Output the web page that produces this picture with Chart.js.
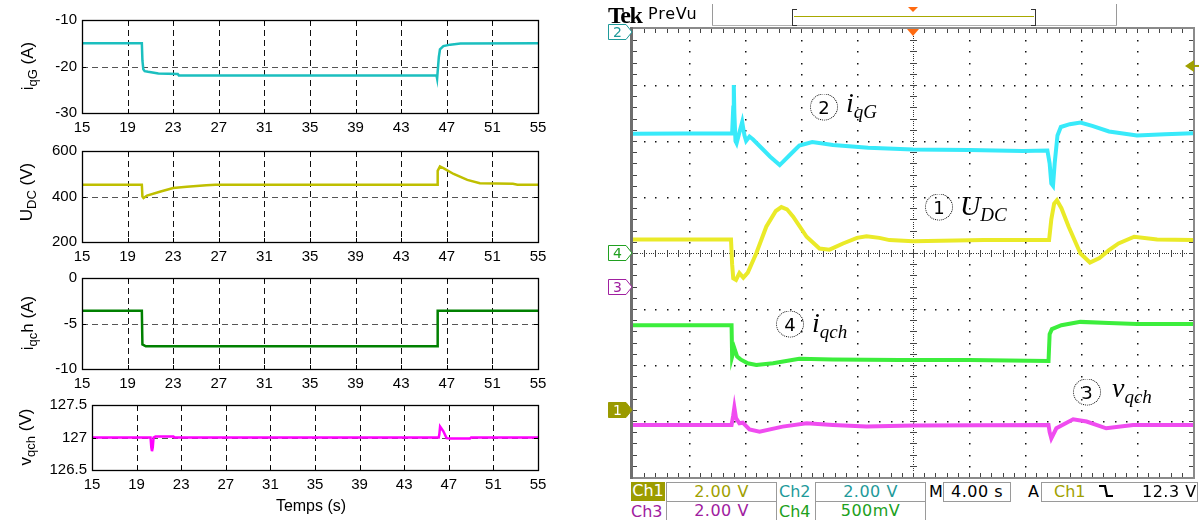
<!DOCTYPE html>
<html><head><meta charset="utf-8">
<script src="https://cdn.jsdelivr.net/npm/chart.js@4.4.1/dist/chart.umd.min.js"></script>
<style>
html,body{margin:0;padding:0;background:#fff;}
body{width:1200px;height:520px;position:relative;overflow:hidden;}
canvas{position:absolute;}
.ylab{position:absolute;white-space:nowrap;font-family:"Liberation Sans",Arial,sans-serif;font-size:17px;color:#000;transform:translate(-50%,-50%) rotate(-90deg);}
.ylab .s{font-size:13px;position:relative;top:4px;}
.xlab{position:absolute;white-space:nowrap;font-family:"Liberation Sans",Arial,sans-serif;font-size:16px;color:#000;transform:translate(-50%,-50%);}
.circ{position:absolute;width:28px;height:27px;border:1px dotted #000;border-radius:50%;box-sizing:border-box;text-align:center;line-height:25px;font-family:"DejaVu Sans",sans-serif;font-size:18px;color:#000;transform:translate(-50%,-50%);}
.ann{position:absolute;font-family:"Liberation Serif",serif;font-style:italic;font-size:28px;line-height:26px;color:#000;white-space:nowrap;}
.ann .s{font-size:19px;position:relative;top:6px;}
.txt{position:absolute;white-space:nowrap;font-family:"DejaVu Sans",sans-serif;font-size:16px;line-height:18px;}
.box{position:absolute;border:1px solid #9a9a9a;box-sizing:border-box;background:#fff;font-family:"DejaVu Sans",sans-serif;font-size:16px;line-height:18px;text-align:center;white-space:nowrap;letter-spacing:0.5px;}
.ln{position:absolute;background:#9a9a9a;}
.mk{position:absolute;width:25px;height:16px;}
.mk span{position:absolute;left:0;top:0;width:19px;height:16px;text-align:center;font-family:"DejaVu Sans",sans-serif;font-size:14px;line-height:16px;}
</style></head>
<body>
<script>
// ---------------- DATA: simulation (left) ----------------
const timeTicks = [15, 19, 23, 27, 31, 35, 39, 43, 47, 51, 55];

const iqG_t = [15, 20.25, 20.3, 20.38, 20.5, 20.8, 21.7, 23.4, 23.5, 46.1, 46.15, 46.3, 46.4, 46.7, 47.3, 48.2, 55];
const iqG_v = [-15, -15, -18.7, -20.6, -21.0, -21.15, -21.5, -21.6, -21.95, -21.95, -22.6, -18.0, -16.3, -15.6, -15.3, -15.05, -15.0];
const iqG_ticks = [-30, -20, -10];

const udc_t = [15, 20.25, 20.3, 20.4, 20.7, 21.9, 23.0, 24.2, 25.9, 26.7, 46.15, 46.2, 46.4, 46.7, 47.6, 48.8, 49.9, 52.8, 53.2, 55];
const udc_v = [452, 452, 400, 393, 404, 422, 437, 443, 449, 452, 452, 513, 532, 525, 499, 473, 458, 456, 452, 452];
const udc_ticks = [200, 400, 600];

const iqch_t = [15, 20.25, 20.3, 20.6, 46.15, 46.2, 55];
const iqch_v = [-3.6, -3.6, -7.3, -7.5, -7.5, -3.6, -3.6];
const iqch_ticks = [-10, -5, 0];

const vqch_t = [15, 20.25, 20.32, 20.38, 20.45, 20.52, 20.7, 22.3, 22.4, 46.1, 46.15, 46.22, 46.5, 46.8, 47.1, 48.9, 49.0, 55];
const vqch_v = [127, 127, 126.85, 126.79, 126.85, 127, 127.015, 127.015, 127, 127, 127.05, 127.17, 127.1, 126.99, 126.985, 126.985, 127, 127];
const vqch_ticks = [126.5, 127, 127.5];

// ---------------- DATA: oscilloscope (right), x and y in divisions ----------------
const scopeXDivs = [0, 10];
const scopeYDivs = [0, 8];

const sc_iqG_x = [0, 1.77, 1.79, 1.80, 1.81, 1.83, 1.85, 1.90, 1.95, 1.99, 2.02, 2.08, 2.14, 2.30, 2.45, 2.62, 2.80, 2.97, 3.20, 3.57, 4.20, 5.00, 6.00, 6.96, 7.40, 7.44, 7.47, 7.50, 7.53, 7.58, 7.64, 7.80, 7.99, 8.20, 8.50, 9.00, 9.50, 10];
const sc_iqG_y = [6.13, 6.14, 6.6, 7.0, 6.5, 6.0, 5.96, 6.15, 6.34, 6.1, 6.0, 6.08, 6.03, 5.87, 5.72, 5.57, 5.75, 5.92, 5.98, 5.93, 5.88, 5.85, 5.84, 5.82, 5.83, 5.6, 5.24, 5.2, 5.6, 6.1, 6.25, 6.3, 6.33, 6.27, 6.17, 6.1, 6.12, 6.14];

const sc_udc_x = [0, 1.75, 1.77, 1.79, 1.84, 1.90, 1.97, 2.05, 2.20, 2.38, 2.55, 2.65, 2.75, 2.86, 3.10, 3.33, 3.51, 3.75, 4.00, 4.17, 4.40, 4.58, 5.00, 6.27, 7.43, 7.47, 7.52, 7.57, 7.65, 7.78, 7.99, 8.16, 8.33, 8.50, 8.67, 8.95, 9.36, 10];
const sc_udc_y = [4.24, 4.24, 3.8, 3.55, 3.52, 3.64, 3.56, 3.65, 3.99, 4.47, 4.75, 4.82, 4.78, 4.65, 4.29, 4.08, 4.06, 4.17, 4.27, 4.30, 4.27, 4.23, 4.21, 4.23, 4.23, 4.6, 4.88, 4.94, 4.8, 4.47, 3.99, 3.83, 3.91, 4.05, 4.17, 4.29, 4.24, 4.23];

const sc_iqch_x = [0, 1.76, 1.77, 1.81, 1.86, 1.92, 2.05, 2.20, 2.50, 2.97, 3.57, 4.76, 6.00, 7.42, 7.44, 7.48, 7.65, 7.99, 8.50, 9.00, 10];
const sc_iqch_y = [2.71, 2.71, 2.15, 2.30, 2.15, 2.10, 2.03, 2.0, 2.03, 2.11, 2.10, 2.09, 2.09, 2.07, 2.55, 2.64, 2.71, 2.77, 2.75, 2.73, 2.73];

const sc_vqch_x = [0, 1.76, 1.79, 1.81, 1.84, 1.90, 1.96, 2.08, 2.26, 2.67, 3.10, 3.57, 4.17, 5.00, 7.42, 7.44, 7.47, 7.56, 7.86, 8.10, 8.45, 8.93, 10];
const sc_vqch_y = [0.93, 0.93, 1.1, 1.24, 1.05, 0.96, 0.97, 0.85, 0.81, 0.90, 0.96, 0.93, 0.90, 0.92, 0.93, 0.80, 0.69, 0.87, 1.03, 0.99, 0.87, 0.93, 0.93];

// channel reference levels (divisions) and trigger level
const chRefLevels = [1.2, 7.95, 3.39, 4.0];   // Ch1..Ch4
const trigLevel = 7.34;

// ---------------- MATLAB-style subplots ----------------
const FONT = '"Liberation Sans", Arial, sans-serif';
const matlabGrid = {
  id: 'matlabGrid',
  beforeDatasetsDraw(chart) {
    const {ctx, chartArea: a, scales: {x, y}} = chart;
    ctx.save();
    ctx.lineWidth = 1;
    ctx.setLineDash([6, 4]);
    ctx.strokeStyle = '#111';
    x.ticks.forEach(t => {
      if (t.value <= x.min || t.value >= x.max) return;
      const px = Math.round(x.getPixelForValue(t.value)) + 0.5;
      ctx.beginPath(); ctx.moveTo(px, a.top); ctx.lineTo(px, a.bottom); ctx.stroke();
    });
    ctx.strokeStyle = '#555';
    y.ticks.forEach(t => {
      if (t.value <= y.min || t.value >= y.max) return;
      const py = Math.round(y.getPixelForValue(t.value)) + 0.5;
      ctx.beginPath(); ctx.moveTo(a.left, py); ctx.lineTo(a.right, py); ctx.stroke();
    });
    ctx.restore();
  },
  afterDatasetsDraw(chart) {
    const {ctx, chartArea: a, scales: {x, y}} = chart;
    ctx.save();
    ctx.strokeStyle = '#000';
    ctx.lineWidth = 1;
    ctx.beginPath();
    x.ticks.forEach(t => {
      const px = Math.round(x.getPixelForValue(t.value)) + 0.5;
      ctx.moveTo(px, a.bottom); ctx.lineTo(px, a.bottom - 4);
      ctx.moveTo(px, a.top); ctx.lineTo(px, a.top + 4);
    });
    y.ticks.forEach(t => {
      const py = Math.round(y.getPixelForValue(t.value)) + 0.5;
      ctx.moveTo(a.left, py); ctx.lineTo(a.left + 4, py);
      ctx.moveTo(a.right, py); ctx.lineTo(a.right - 4, py);
    });
    ctx.stroke();
    ctx.lineWidth = 1.3;
    ctx.strokeRect(Math.round(a.left) + 0.5, Math.round(a.top) + 0.5, Math.round(a.right - a.left), Math.round(a.bottom - a.top));
    ctx.restore();
  }
};

function matlabPlot(cfg) {
  const padTop = 10, xAxisH = 26, W = 560, plotRight = 538;
  const H = cfg.bottom - cfg.top + padTop + xAxisH;
  const c = document.createElement('canvas');
  c.width = W; c.height = H;
  c.style.width = W + 'px'; c.style.height = H + 'px';
  c.style.left = '0px'; c.style.top = (cfg.top - padTop) + 'px';
  document.body.appendChild(c);
  new Chart(c, {
    type: 'line',
    data: { datasets: [{
      data: cfg.t.map((t, i) => ({x: t, y: cfg.v[i]})),
      borderColor: cfg.color, borderWidth: 2.5, pointRadius: 0, tension: 0, fill: false
    }]},
    options: {
      responsive: false, animation: false, events: [],
      layout: {padding: {top: padTop, right: W - plotRight, left: 0, bottom: 0}},
      plugins: {legend: {display: false}, tooltip: {enabled: false}},
      scales: {
        x: {
          type: 'linear', min: timeTicks[0], max: timeTicks[timeTicks.length - 1],
          afterBuildTicks: s => { s.ticks = timeTicks.map(v => ({value: v})); },
          afterFit: s => { s.height = xAxisH; },
          grid: {display: false, drawTicks: false}, border: {display: false},
          ticks: {font: {family: FONT, size: 15}, color: '#000', padding: 6, maxRotation: 0, autoSkip: false, callback: v => String(v)}
        },
        y: {
          type: 'linear', min: cfg.ticks[0], max: cfg.ticks[cfg.ticks.length - 1],
          afterBuildTicks: s => { s.ticks = cfg.ticks.map(v => ({value: v})); },
          afterFit: s => { s.width = cfg.left; },
          grid: {display: false, drawTicks: false}, border: {display: false},
          ticks: {font: {family: FONT, size: 15}, color: '#000', padding: 5, autoSkip: false, callback: v => String(v)}
        }
      }
    },
    plugins: [matlabGrid]
  });
}

matlabPlot({t: iqG_t, v: iqG_v, ticks: iqG_ticks, color: '#1bbfbf', left: 82, top: 16, bottom: 113});
matlabPlot({t: udc_t, v: udc_v, ticks: udc_ticks, color: '#bfbf00', left: 82, top: 147, bottom: 242});
matlabPlot({t: iqch_t, v: iqch_v, ticks: iqch_ticks, color: '#008000', left: 82, top: 274, bottom: 369});
matlabPlot({t: vqch_t, v: vqch_v, ticks: vqch_ticks, color: '#ff00ff', left: 92, top: 401, bottom: 470});

// ---------------- Oscilloscope ----------------
const scopeDecor = {
  id: 'scopeDecor',
  beforeDatasetsDraw(chart) {
    const {ctx, chartArea: a, scales: {x, y}} = chart;
    const xm = scopeXDivs[1], ym = scopeYDivs[1];
    const cx = (xm) / 2, cy = (ym) / 2;
    ctx.save();
    ctx.fillStyle = '#111';
    // dotted graticule
    for (let i = 1; i < xm; i++) {
      if (i === cx) continue;
      const px = Math.round(x.getPixelForValue(i));
      for (let j = 1; j < ym * 5; j++) {
        const py = Math.round(y.getPixelForValue(j * 0.2));
        ctx.fillRect(px, py, 1.5, 1.5);
      }
    }
    for (let i = 1; i < ym; i++) {
      if (i === cy) continue;
      const py = Math.round(y.getPixelForValue(i));
      for (let j = 1; j < xm * 5; j++) {
        const px = Math.round(x.getPixelForValue(j * 0.2));
        ctx.fillRect(px, py, 1.5, 1.5);
      }
    }
    // center lines with minor ticks
    const pcx = Math.round(x.getPixelForValue(cx));
    const pcy = Math.round(y.getPixelForValue(cy));
    ctx.fillStyle = '#333';
    for (let j = 0; j <= ym * 25; j++) {
      const py = Math.round(y.getPixelForValue(j * 0.04));
      ctx.fillRect(pcx, py, 1, 1);
    }
    for (let j = 0; j <= xm * 25; j++) {
      const px = Math.round(x.getPixelForValue(j * 0.04));
      ctx.fillRect(px, pcy, 1, 1);
    }
    ctx.fillStyle = '#444';
    for (let j = 1; j < ym * 5; j++) {
      const py = Math.round(y.getPixelForValue(j * 0.2));
      ctx.fillRect(pcx - 3, py, 7, 1);
      ctx.fillRect(a.left, py, 4, 1);
      ctx.fillRect(a.right - 4, py, 4, 1);
    }
    for (let j = 1; j < xm * 5; j++) {
      const px = Math.round(x.getPixelForValue(j * 0.2));
      ctx.fillRect(px, pcy - 3, 1, 7);
      ctx.fillRect(px, a.top, 1, 4);
      ctx.fillRect(px, a.bottom - 4, 1, 4);
    }
    ctx.restore();
  },
  afterDraw(chart) {
    const {ctx, chartArea: a, scales: {x, y}} = chart;
    ctx.save();
    // frame
    ctx.fillStyle = '#8a8a8a';
    ctx.fillRect(a.left - 1, a.top - 2, a.right - a.left + 3, 2);
    ctx.fillRect(a.right, a.top - 2, 2, a.bottom - a.top + 4);
    ctx.fillRect(a.left - 1, a.bottom, a.right - a.left + 3, 2);
    ctx.fillStyle = '#6e6e6e';
    ctx.fillRect(a.left - 3, a.top - 2, 3, a.bottom - a.top + 4);
    // trigger position marker (orange)
    const cx = x.getPixelForValue((scopeXDivs[0] + scopeXDivs[1]) / 2);
    ctx.fillStyle = '#ff6a10';
    ctx.beginPath(); ctx.moveTo(cx - 6, a.top); ctx.lineTo(cx + 6, a.top); ctx.lineTo(cx, a.top + 7); ctx.closePath(); ctx.fill();
    ctx.beginPath(); ctx.moveTo(cx - 5, 7); ctx.lineTo(cx + 5, 7); ctx.lineTo(cx, 12); ctx.closePath(); ctx.fill();
    // trigger level arrow (olive)
    const ty = y.getPixelForValue(trigLevel);
    ctx.fillStyle = '#a0a000';
    ctx.beginPath(); ctx.moveTo(a.right - 8, ty); ctx.lineTo(a.right + 1, ty - 6); ctx.lineTo(a.right + 1, ty + 6); ctx.closePath(); ctx.fill();
    ctx.fillRect(a.right + 1, ty - 1, 5, 2);
    ctx.restore();
  }
};

const sc = document.createElement('canvas');
sc.width = 600; sc.height = 480;
sc.style.width = '600px'; sc.style.height = '480px';
sc.style.left = '600px'; sc.style.top = '0px';
document.body.appendChild(sc);
function trace(xs, ys, color) {
  return {data: xs.map((v, i) => ({x: v, y: ys[i]})), borderColor: color, borderWidth: 4, pointRadius: 0, tension: 0, fill: false};
}
const scopeChart = new Chart(sc, {
  type: 'line',
  data: {datasets: [
    trace(sc_iqG_x, sc_iqG_y, '#38eafa'),
    trace(sc_udc_x, sc_udc_y, '#eaea28'),
    trace(sc_iqch_x, sc_iqch_y, '#3cee3c'),
    trace(sc_vqch_x, sc_vqch_y, '#f04cf0')
  ]},
  options: {
    responsive: false, animation: false, events: [],
    layout: {padding: {left: 33, top: 29, right: 7, bottom: 3}},
    plugins: {legend: {display: false}, tooltip: {enabled: false}},
    scales: {
      x: {type: 'linear', display: false, min: scopeXDivs[0], max: scopeXDivs[1]},
      y: {type: 'linear', display: false, min: scopeYDivs[0], max: scopeYDivs[1]}
    }
  },
  plugins: [scopeDecor]
});

// channel markers
const mkStyles = [
  {n: '1', stroke: '#9a9a00', fill: '#9a9a00', text: '#fff'},
  {n: '2', stroke: '#1f9a9a', fill: '#fff', text: '#1f9a9a'},
  {n: '3', stroke: '#a020a0', fill: '#fff', text: '#a020a0'},
  {n: '4', stroke: '#20a020', fill: '#fff', text: '#20a020'}
];
mkStyles.forEach((m, i) => {
  const py = scopeChart.scales.y.getPixelForValue(chRefLevels[i]);
  const d = document.createElement('div');
  d.className = 'mk';
  d.style.left = '608px';
  d.style.top = Math.round(py - 8) + 'px';
  d.innerHTML = '<svg width="25" height="16" style="position:absolute;left:0;top:0"><polygon points="0.5,0.5 18,0.5 24,8 18,15.5 0.5,15.5" fill="' + m.fill + '" stroke="' + m.stroke + '" stroke-width="1"/></svg><span style="color:' + m.text + '">' + m.n + '</span>';
  document.body.appendChild(d);
});
</script>

<!-- y-axis labels (left) -->
<div class="ylab" style="left:28px;top:66px">i<span class="s">qG</span> (A)</div>
<div class="ylab" style="left:27px;top:192px">U<span class="s">DC</span> (V)</div>
<div class="ylab" style="left:28px;top:323px">i<span class="s">qc</span>h (A)</div>
<div class="ylab" style="left:26px;top:437px">v<span class="s">qch</span> (V)</div>
<div class="xlab" style="left:311px;top:506px">Temps (s)</div>

<!-- scope top bar -->
<div class="txt" style="left:608px;top:2px;font-family:'Liberation Serif',serif;font-weight:bold;font-size:24px;line-height:26px;letter-spacing:-1.5px">Tek</div>
<div class="txt" style="left:648px;top:5px;font-size:16px;letter-spacing:0.8px">PreVu</div>
<div class="ln" style="left:712px;top:4px;width:1px;height:22px"></div>
<div class="ln" style="left:1116px;top:4px;width:1px;height:22px"></div>
<div class="ln" style="left:712px;top:25px;width:405px;height:1px;background:#b0b0b0"></div>
<div style="position:absolute;left:792px;top:9px;width:4px;height:15px;border:1px solid #333;border-right:none"></div>
<div style="position:absolute;left:1031px;top:9px;width:4px;height:15px;border:1px solid #333;border-left:none"></div>
<div style="position:absolute;left:794px;top:16px;width:240px;height:1px;background:#a8a800"></div>

<!-- scope annotations -->
<div class="circ" style="left:824px;top:107px">2</div>
<div class="ann" style="left:846px;top:90px">i<span class="s">qG</span></div>
<div class="circ" style="left:939px;top:207px">1</div>
<div class="ann" style="left:960px;top:193px">U<span class="s">DC</span></div>
<div class="circ" style="left:790px;top:324px">4</div>
<div class="ann" style="left:812px;top:310px">i<span class="s">qch</span></div>
<div class="circ" style="left:1087px;top:392px">3</div>
<div class="ann" style="left:1112px;top:375px">v<span class="s">qch</span></div>

<!-- scope bottom info -->
<div class="txt" style="left:631px;top:482px;width:34px;height:19px;background:#9c9c00;color:#fff;text-align:center">Ch1</div>
<div class="box" style="left:666px;top:482px;width:111px;height:20px;color:#a0a000">2.00 V</div>
<div class="txt" style="left:779px;top:483px;color:#1f9a9a">Ch2</div>
<div class="box" style="left:815px;top:482px;width:111px;height:20px;color:#1f9a9a">2.00 V</div>
<div class="txt" style="left:929px;top:483px;color:#000">M</div>
<div class="box" style="left:943px;top:482px;width:68px;height:20px;color:#000">4.00 s</div>
<div class="txt" style="left:1028px;top:483px;color:#000">A</div>
<div class="box" style="left:1041px;top:482px;width:157px;height:20px"></div>
<div class="txt" style="left:1054px;top:483px;color:#a0a000">Ch1</div>
<svg style="position:absolute;left:1098px;top:483px" width="16" height="16"><polyline points="1,3 7,3 9,13 15,13" fill="none" stroke="#000" stroke-width="2.2"/></svg>
<div class="txt" style="left:1142px;top:483px;color:#000;letter-spacing:0.5px">12.3 V</div>
<div class="txt" style="left:631px;top:503px;color:#a020a0">Ch3</div>
<div class="box" style="left:666px;top:501px;width:111px;height:22px;color:#a020a0">2.00 V</div>
<div class="txt" style="left:779px;top:503px;color:#20a020">Ch4</div>
<div class="box" style="left:815px;top:501px;width:111px;height:22px;color:#20a020">500mV</div>
</body></html>
